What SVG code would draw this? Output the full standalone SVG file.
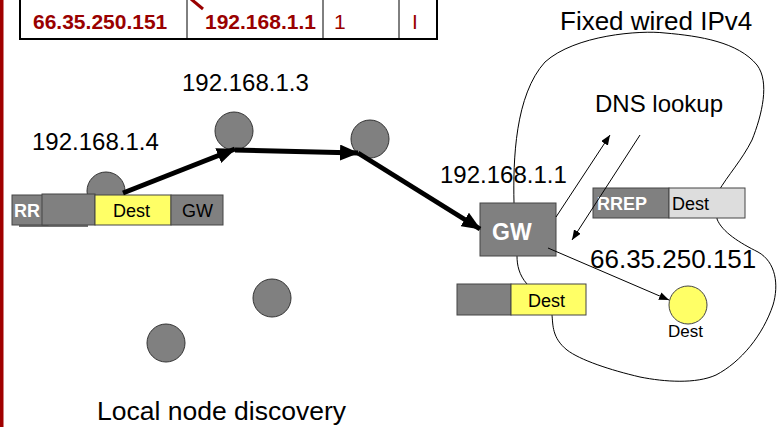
<svg xmlns="http://www.w3.org/2000/svg" width="777" height="427" viewBox="0 0 777 427">
<defs>
<style>
text{font-family:"Liberation Sans",Arial,sans-serif;}
.lbl{font-size:24px;fill:#000;}
.big{font-size:26px;fill:#000;}
.tbl{font-size:21px;font-weight:bold;fill:#990000;}
.tbln{font-size:21px;fill:#990000;}
.pk{font-size:18px;fill:#000;}
.pkw{font-size:18px;font-weight:bold;fill:#fff;}
.node{fill:#808080;stroke:#333;stroke-width:1;}
.gray{fill:#808080;stroke:#444;stroke-width:1;}
.yel{fill:#FFFF66;stroke:#444;stroke-width:1;}
.lgray{fill:#DDDDDD;stroke:#444;stroke-width:1;}
.thick{stroke:#000;stroke-width:5;fill:none;marker-end:url(#ah);}
.thin{stroke:#000;stroke-width:1;fill:none;marker-end:url(#as);}
</style>
<marker id="ah" markerUnits="userSpaceOnUse" markerWidth="19" markerHeight="16" refX="18" refY="8" orient="auto">
<path d="M0,0 L19,8 L0,16 z" fill="#000"/>
</marker>
<marker id="as" markerUnits="userSpaceOnUse" markerWidth="10" markerHeight="8" refX="10" refY="4" orient="auto">
<path d="M0,0 L10,4 L0,8 z" fill="#000"/>
</marker>
</defs>
<rect width="777" height="427" fill="#fff"/>
<rect x="0" y="0" width="3.5" height="427" fill="#A00000"/>

<g id="table">
<path d="M20,0 V39 H437 V0" fill="none" stroke="#000" stroke-width="2"/>
<line x1="187" y1="0" x2="187" y2="39" stroke="#000" stroke-width="1"/>
<line x1="323" y1="0" x2="323" y2="39" stroke="#000" stroke-width="1"/>
<line x1="399" y1="0" x2="399" y2="39" stroke="#000" stroke-width="1"/>
<line x1="191" y1="-1" x2="203" y2="9" stroke="#990000" stroke-width="3"/>
<text class="tbl" x="33" y="29">66.35.250.151</text>
<text class="tbl" x="205" y="29">192.168.1.1</text>
<text class="tbln" x="334" y="29">1</text>
<text class="tbln" x="412" y="29">I</text>
</g>

<g id="cloud">
<path d="M514,203 C513,160 515,95 545,62 C575,35 640,30 665,33 C700,36 738,42 757,65 C770,82 762,115 752,140 C742,160 728,175 718,192 L717,219 C722,232 740,243 758,252 C776,262 779,285 773,305 C763,335 741,362 716,375 C696,384 665,382 640,377 C610,370 580,360 567,350 C552,338 553,325 552,315 L527,284 C519,275 517,265 517,256 Z" fill="none" stroke="#000" stroke-width="1"/>
</g>

<g id="labels">
<text class="big" x="560" y="30">Fixed wired IPv4</text>
<text class="lbl" x="595" y="112">DNS lookup</text>
<text class="lbl" x="182" y="91">192.168.1.3</text>
<text class="lbl" x="32" y="150">192.168.1.4</text>
<text class="lbl" x="440" y="183">192.168.1.1</text>
<text class="big" x="590" y="268">66.35.250.151</text>
<text class="big" x="97" y="420" style="font-size:26.5px">Local node discovery</text>
</g>

<g id="node-192-168-1-4">
<circle class="node" cx="106" cy="191" r="19"/>
</g>
<g id="node-192-168-1-3">
<circle class="node" cx="234" cy="131" r="19"/>
</g>
<g id="node-hop">
<circle class="node" cx="370" cy="139" r="19"/>
</g>
<g id="node-lower-1">
<circle class="node" cx="272" cy="298" r="19"/>
</g>
<g id="node-lower-2">
<circle class="node" cx="166" cy="343" r="19"/>
</g>

<g id="packet-rreq">
<line x1="19" y1="226" x2="88" y2="226" stroke="#444" stroke-width="1.5"/>
<rect class="gray" x="12" y="195" width="36" height="30"/>
<text class="pkw" x="14" y="217">RR</text>
<rect class="gray" x="42" y="194" width="53" height="31"/>
<rect class="yel" x="95" y="195" width="76" height="30"/>
<text class="pk" x="113" y="217">Dest</text>
<rect class="gray" x="171" y="195" width="52" height="30"/>
<text class="pk" x="182" y="217">GW</text>
</g>

<g id="gw">
<rect class="gray" x="480" y="203" width="76" height="53"/>
<text x="492" y="240" style="font-size:23px;font-weight:bold;fill:#fff;">GW</text>
</g>

<g id="packet-rrep">
<rect class="gray" x="593" y="188" width="76" height="30"/>
<text class="pkw" x="597" y="210">RREP</text>
<rect class="lgray" x="669" y="188" width="76" height="30"/>
<text class="pk" x="672" y="210">Dest</text>
</g>

<g id="packet-data">
<rect class="gray" x="457" y="284" width="54" height="31"/>
<rect class="yel" x="511" y="284" width="75" height="31"/>
<text class="pk" x="528" y="307">Dest</text>
</g>

<g id="dest">
<circle class="yel" cx="688" cy="305" r="19"/>
<text x="668" y="337" style="font-size:17px;fill:#000;">Dest</text>
</g>

<g id="connectors">
<line class="thick" x1="123" y1="193" x2="235" y2="149"/>
<line class="thick" x1="235" y1="150" x2="358" y2="153"/>
<line class="thick" x1="358" y1="153" x2="480" y2="229"/>
<line class="thin" x1="548" y1="248" x2="669" y2="300"/>
<line class="thin" x1="556" y1="217" x2="610" y2="135"/>
<line class="thin" x1="640" y1="135" x2="572" y2="240"/>
</g>
</svg>
